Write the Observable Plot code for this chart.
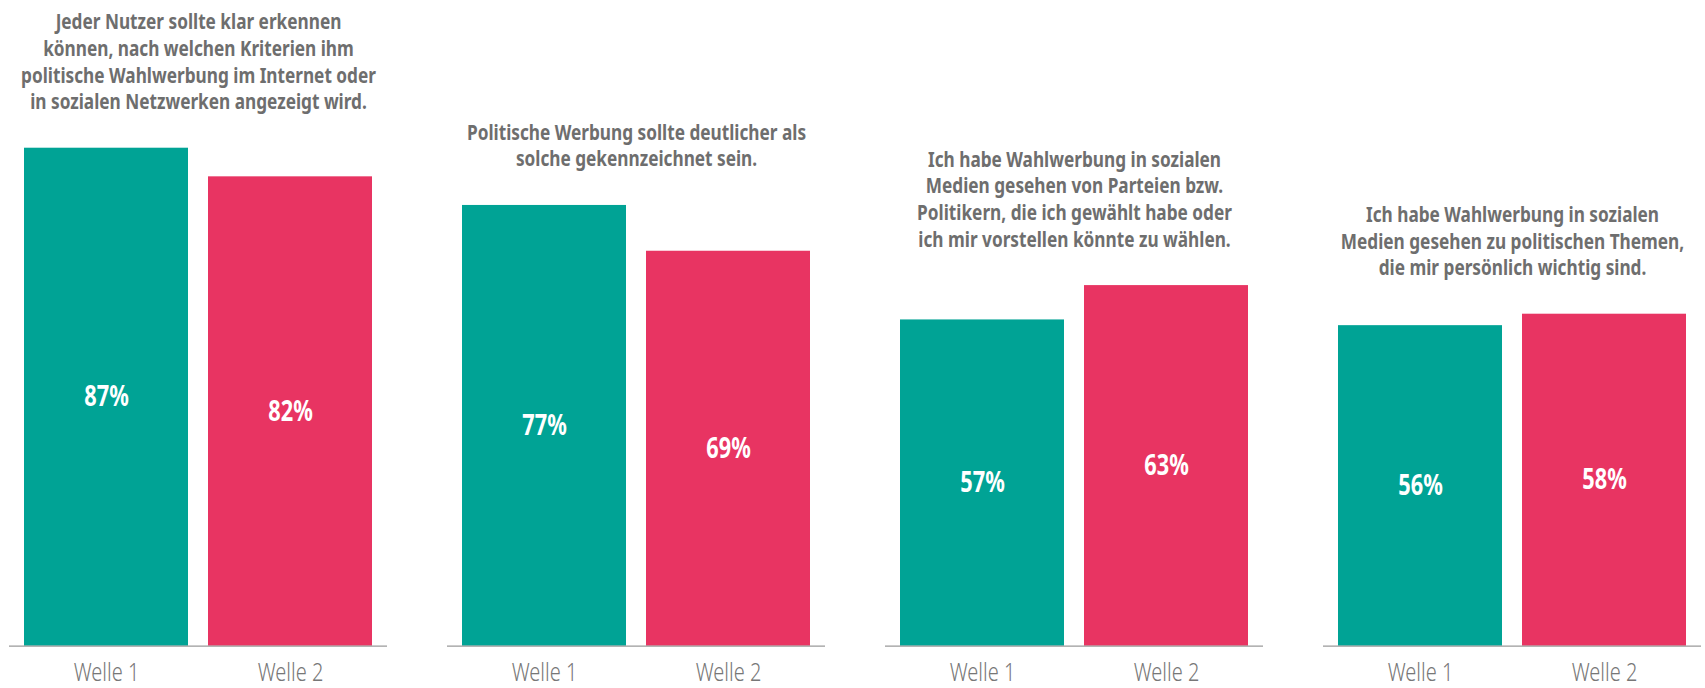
<!DOCTYPE html>
<html>
<head>
<meta charset="utf-8">
<script src="https://cdn.jsdelivr.net/npm/d3@7"></script>
<script src="https://cdn.jsdelivr.net/npm/@observablehq/plot@0.6"></script>
<style>
  html, body { margin: 0; padding: 0; background: #fff; }
  #chart svg { display: block; }
</style>
</head>
<body>
<div id="chart"></div>
<script>
const questions = [
  "Jeder Nutzer sollte klar erkennen\nkönnen, nach welchen Kriterien ihm\npolitische Wahlwerbung im Internet oder\nin sozialen Netzwerken angezeigt wird.",
  "Politische Werbung sollte deutlicher als\nsolche gekennzeichnet sein.",
  "Ich habe Wahlwerbung in sozialen\nMedien gesehen von Parteien bzw.\nPolitikern, die ich gewählt habe oder\nich mir vorstellen könnte zu wählen.",
  "Ich habe Wahlwerbung in sozialen\nMedien gesehen zu politischen Themen,\ndie mir persönlich wichtig sind."
];
const waves = ["Welle 1", "Welle 2"];
const welle1 = [87, 77, 57, 56];
const welle2 = [82, 69, 63, 58];
const colors = ["#00a395", "#e83462"];

const rows = [];
questions.forEach((q, i) => {
  rows.push({q: i, wave: waves[0], value: welle1[i]});
  rows.push({q: i, wave: waves[1], value: welle2[i]});
});
const titles = questions.map((t, i) => ({q: i, text: t, top: Math.max(welle1[i], welle2[i])}));

const chart = Plot.plot({
  width: 1705,
  height: 688,
  marginLeft: 8,
  marginRight: 3,
  marginTop: 73.3,
  marginBottom: 42.3,
  style: {fontFamily: "'Noto Sans', 'DejaVu Sans', sans-serif", background: "#fff"},
  fx: {domain: d3.range(questions.length), paddingInner: 0.138, paddingOuter: 0, axis: null, label: null},
  x: {domain: waves, paddingInner: 0.1087, paddingOuter: 0.0815, label: null},
  y: {domain: [0, 100], axis: null},
  color: {domain: waves, range: colors},
  marks: [
    Plot.barY(rows, {fx: "q", x: "wave", y: "value", fill: "wave"}),
    Plot.ruleY([0], {stroke: "#9a9a9a", strokeWidth: 1.3}),
    Plot.axisX({fontSize: 25, fill: "#777", tickSize: 0, tickPadding: 17, fontWeight: 300, label: null}),
    Plot.text(rows, {fx: "q", x: "wave", y: d => d.value / 2, text: d => d.value + "%", fill: "white", fontSize: 29, fontWeight: "bold"}),
    Plot.text(titles, {fx: "q", y: "top", text: "text", lineAnchor: "bottom", dy: -39, lineHeight: 1.27, fontSize: 21, fontWeight: "bold", fill: "#6e6e6e"})
  ]
});

// narrow the glyphs horizontally to mimic the condensed typeface of the original
d3.select(chart).selectAll("text").each(function () {
  const s = this.textContent;
  const k = s.endsWith("%") ? 0.75 : s.startsWith("Welle") ? 0.8 : 0.82;
  let t = this.getAttribute("transform");
  if (!t) {
    const x = +this.getAttribute("x") || 0, y = +this.getAttribute("y") || 0;
    this.removeAttribute("x"); this.removeAttribute("y");
    t = `translate(${x},${y})`;
  }
  this.setAttribute("transform", `${t} scale(${k},1)`);
});

document.getElementById("chart").appendChild(chart);
</script>
</body>
</html>
